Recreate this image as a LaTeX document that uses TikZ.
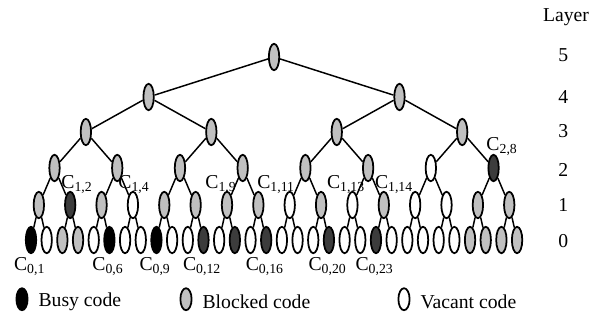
\documentclass[tikz,border=0pt]{standalone}
\usepackage{fontspec}
\setmainfont{Liberation Serif}
\usetikzlibrary{shapes.geometric, positioning, calc}
\definecolor{busydark}{RGB}{60, 60, 60}
\definecolor{blockgray}{RGB}{192, 192, 192}

\begin{document}
\begin{tikzpicture}[
    code/.style={ellipse, draw, line width=1.25pt,
                 minimum width=0.26cm, minimum height=0.66cm,
                 inner sep=0pt},
    bk/.style={code, fill=black},
    dk/.style={code, fill=busydark},
    gy/.style={code, fill=blockgray},
    wh/.style={code, fill=white},
    edge/.style={line width=1.05pt},
    clab/.style={font=\fontsize{14}{16}\selectfont, inner sep=0pt},
    key/.style={code, minimum height=0.55cm, minimum width=0.28cm},
]
\useasboundingbox (0,0) rectangle (15.05,8.1);

% -- Layer 0 (leaves) -----------------------
\foreach \s [count=\j] in {bk,wh,gy,gy,wh,bk,wh,wh,
                           bk,wh,wh,dk,wh,dk,wh,dk,
                           wh,wh,wh,dk,wh,wh,dk,wh,
                           wh,wh,wh,wh,gy,gy,gy,gy}
    \node[\s] (c0-\j) at ({0.775+0.392*(\j-1)}, 2.1) {};

% -- Layers 1 to 5 ---------------------------
\foreach \s [count=\j] in {gy,dk,gy,wh,gy,gy,gy,gy,
                           wh,gy,wh,gy,wh,wh,gy,gy}
    \node[\s] (c1-\j) at ({0.775+0.392*(2*\j-1.5)}, 2.975) {};
\foreach \s [count=\j] in {gy,gy,gy,gy,gy,gy,wh,dk}
    \node[\s] (c2-\j) at ({0.775+0.392*(4*\j-2.5)}, 3.9) {};
\foreach \s [count=\j] in {gy,gy,gy,gy}
    \node[\s] (c3-\j) at ({0.775+0.392*(8*\j-4.5)}, 4.8) {};
\foreach \s [count=\j] in {gy,gy}
    \node[\s] (c4-\j) at ({0.775+0.392*(16*\j-8.5)}, 5.675) {};
\node[gy] (c5-1) at ({0.775+0.392*15.5}, 6.675) {};

% -- Tree edges ------------------------------
\foreach \k/\n in {1/16, 2/8, 3/4, 4/2, 5/1} {
    \pgfmathtruncatemacro\kk{\k-1}
    \foreach \j in {1,...,\n} {
        \pgfmathtruncatemacro\a{2*\j-1}
        \pgfmathtruncatemacro\b{2*\j}
        \draw[edge] (c\k-\j) -- (c\kk-\a);
        \draw[edge] (c\k-\j) -- (c\kk-\b);
    }
}

% -- Code labels -----------------------------
\foreach \j in {1, 6, 9, 12, 16, 20, 23}
    \node[clab, below=2pt of c0-\j, xshift=-1pt] (lab0-\j)
        {C\textsubscript{0,\j}};
\node[clab] (lab1-2)  at (1.925, 3.475) {C\textsubscript{1,2}};
\node[clab] (lab1-4)  at (3.35, 3.475)  {C\textsubscript{1,4}};
\node[clab] (lab1-9)  at (5.525, 3.475) {C\textsubscript{1,9}};
\node[clab] (lab1-11) at (6.9, 3.475)   {C\textsubscript{1,11}};
\node[clab] (lab1-13) at (8.65, 3.475)  {C\textsubscript{1,13}};
\node[clab] (lab1-14) at (9.85, 3.475)  {C\textsubscript{1,14}};
\node[clab] (lab2-8)  at (12.55, 4.425) {C\textsubscript{2,8}};

% -- Layer numbers ---------------------------
\node[clab] (layer) at (14.15, 7.675) {Layer};
\foreach \k/\y in {5/6.725, 4/5.675, 3/4.825, 2/3.85, 1/2.975, 0/2.075}
    \node[clab] (lay\k) at (14.08, \y) {\k};

% -- Legend ----------------------------------
\node[key, fill=black] (kbusy) at (0.55, 0.62) {};
\node[clab, right=7pt of kbusy, yshift=-2pt] (tbusy) {Busy code};
\node[key, fill=blockgray] (kblock) at (4.65, 0.62) {};
\node[clab, right=7pt of kblock, yshift=-2pt] (tblock) {Blocked code};
\node[key, fill=white] (kvac) at (10.1, 0.62) {};
\node[clab, right=7pt of kvac, yshift=-2pt] (tvac) {Vacant code};

\end{tikzpicture}
\end{document}
